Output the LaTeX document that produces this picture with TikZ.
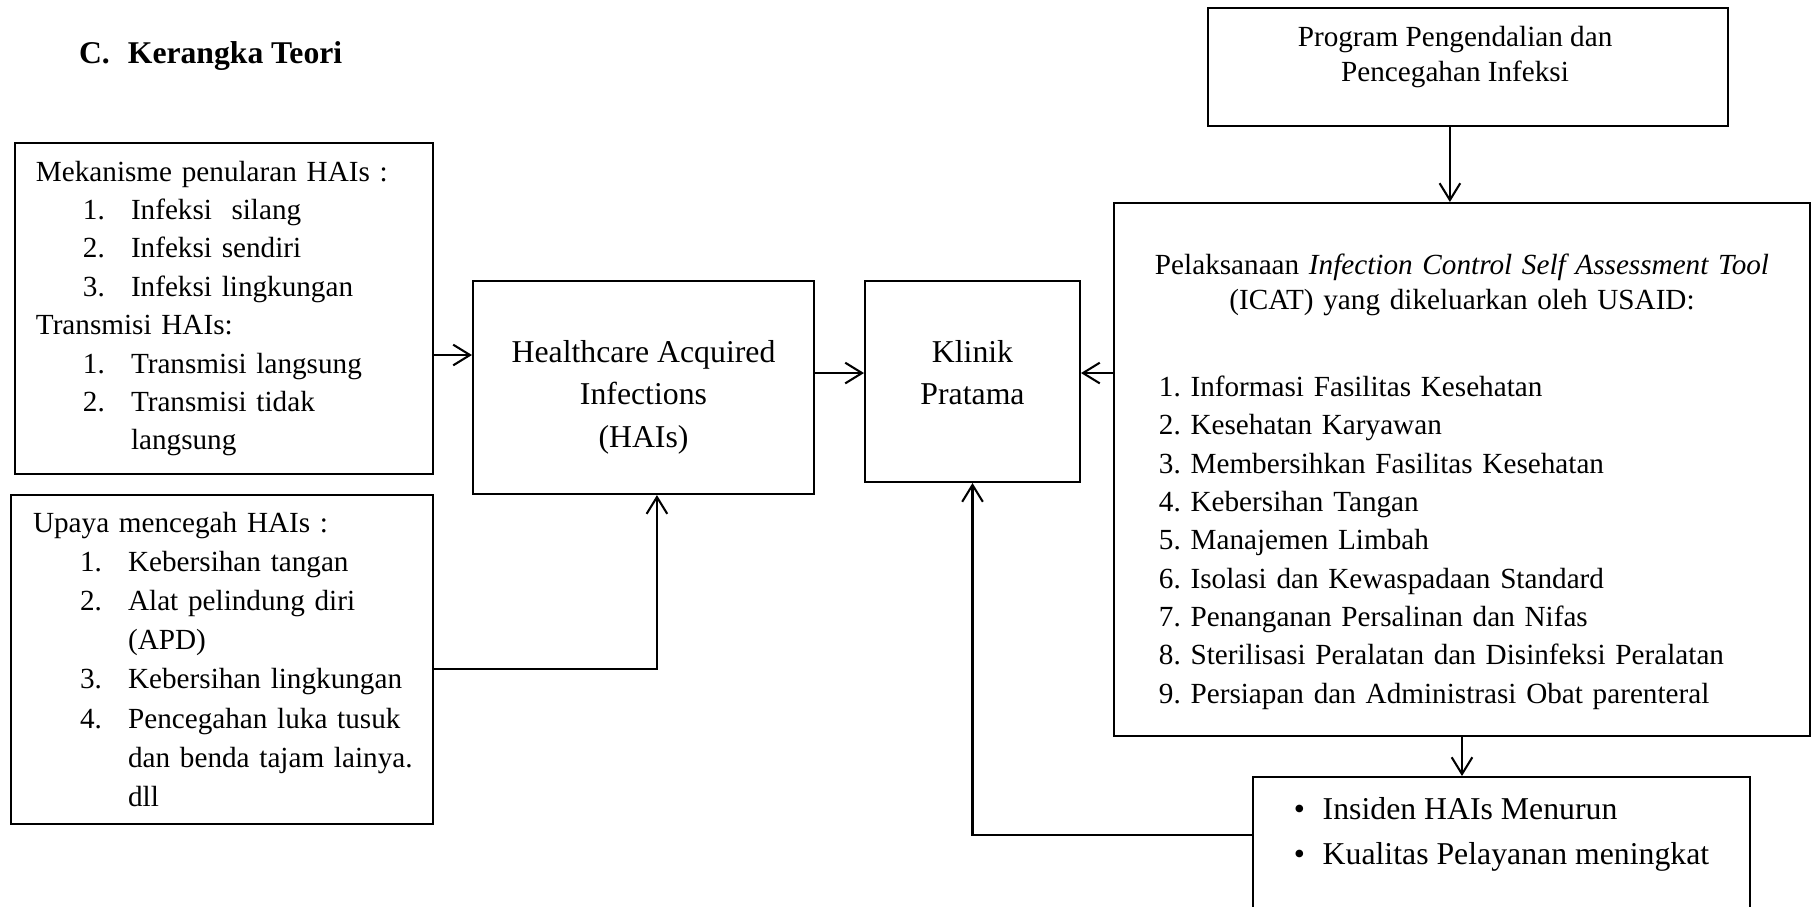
\documentclass[tikz,border=0pt]{standalone}
\usepackage{fontspec}
\setmainfont{Liberation Serif}
\usetikzlibrary{arrows.meta}
\frenchspacing
\newcommand{\butir}[2]{\hspace*{18.2pt}\makebox[18.6pt][l]{#1}\mbox{#2}}
\newcommand{\lanjut}[1]{\hspace*{36.8pt}\mbox{#1}}
\newcommand{\titik}[1]{\makebox[11.2pt][l]{\textbullet}\mbox{#1}}

\begin{document}
\begin{tikzpicture}[
  x=0.3871pt, y=-0.3871pt,
  box/.style={draw, line width=0.8pt, inner sep=0pt, font=\fontsize{11.3}{14.85}\selectfont},
  arrow/.style={-{Straight Barb[length=6.5pt,width=8pt]}, line width=0.8pt}
]
  \useasboundingbox (0,0) rectangle (1812,907);

  \node[anchor=base west, font=\fontsize{12.25}{14.85}\selectfont\bfseries] (judul) at (70,63) {C.\hspace*{7pt}Kerangka Teori};

  \node[box, minimum width=161.8pt, minimum height=128.1pt, text width=145.6pt, align=left] (mek) at (224,308.5)
    {Mekanisme penularan HAIs :\\
     \butir{1.}{Infeksi\ \ silang}\\
     \butir{2.}{Infeksi sendiri}\\
     \butir{3.}{Infeksi lingkungan}\\
     Transmisi HAIs:\\
     \butir{1.}{Transmisi langsung}\\
     \butir{2.}{Transmisi tidak}\\
     \lanjut{langsung}};
  \node[box, minimum width=163.4pt, minimum height=127.4pt, text width=146.3pt, align=left,
    font=\fontsize{11.3}{15.1}\selectfont] (upaya) at (222,659.5)
    {Upaya mencegah HAIs :\\
     \butir{1.}{Kebersihan tangan}\\
     \butir{2.}{Alat pelindung diri}\\
     \lanjut{(APD)}\\
     \butir{3.}{Kebersihan lingkungan}\\
     \butir{4.}{Pencegahan luka tusuk}\\
     \lanjut{dan benda tajam lainya.}\\
     \lanjut{dll}};
  \node[box, minimum width=132pt, minimum height=82.5pt, align=center,
    font=\fontsize{12.3}{16.4}\selectfont] (hais) at (643.5,387.5)
    {\rule{0pt}{16pt}Healthcare Acquired\\ Infections\\ (HAIs)};
  \node[box, minimum width=83.2pt, minimum height=77.8pt, align=center,
    font=\fontsize{12.3}{16.4}\selectfont] (klinik) at (972.5,381.5)
    {Klinik\\ Pratama\rule[-7pt]{0pt}{7pt}};
  \node[box, minimum width=201.3pt, minimum height=45.7pt, align=center,
    font=\fontsize{11.3}{13.5}\selectfont] (prog) at (1468,67)
    {Program Pengendalian dan\hspace*{10pt}\\ Pencegahan Infeksi\hspace*{10pt}\rule[-10pt]{0pt}{10pt}};
  \node[box, minimum width=269.4pt, minimum height=206.3pt, text width=234.6pt, align=left] (icat) at (1462,469.5)
    {\rule{0pt}{17.6pt}\makebox[234.6pt][c]{Pelaksanaan \textit{Infection Control Self Assessment Tool}}\\[-1.3pt]
     \makebox[234.6pt][c]{(ICAT) yang dikeluarkan oleh USAID:}\\[18.6pt]
     1. Informasi Fasilitas Kesehatan\\
     2. Kesehatan Karyawan\\
     3. Membersihkan Fasilitas Kesehatan\\
     4. Kebersihan Tangan\\
     5. Manajemen Limbah\\
     6. Isolasi dan Kewaspadaan Standard\\
     7. Penanganan Persalinan dan Nifas\\
     8. Sterilisasi Peralatan dan Disinfeksi Peralatan\\
     9. Persiapan dan Administrasi Obat parenteral};
  \node[box, minimum width=192.4pt, minimum height=58.8pt, align=left,
    font=\fontsize{12.3}{17.4}\selectfont] (hasil) at (1501.5,853)
    {\titik{Insiden HAIs Menurun}\\
     \titik{Kualitas Pelayanan meningkat}\\
     \mbox{}};

  \draw[arrow] ([yshift=-18pt]mek.east) coordinate (m1) -- (m1 -| hais.west);
  \draw[arrow] ([yshift=-3.7pt]upaya.east) -| ([xshift=5.2pt]hais.south);
  \draw[arrow] ([yshift=5.6pt]hais.east) coordinate (h1) -- (h1 -| klinik.west);
  \draw[arrow] (h1 -| icat.west) -- (h1 -| klinik.east);
  \draw[arrow] ([xshift=-7pt]prog.south) coordinate (p1) -- (p1 |- icat.north);
  \draw[arrow] (icat.south) -- (icat.south |- hasil.north);
  \draw[arrow] ([yshift=7pt]hasil.west) -| (klinik.south);
\end{tikzpicture}
\end{document}
